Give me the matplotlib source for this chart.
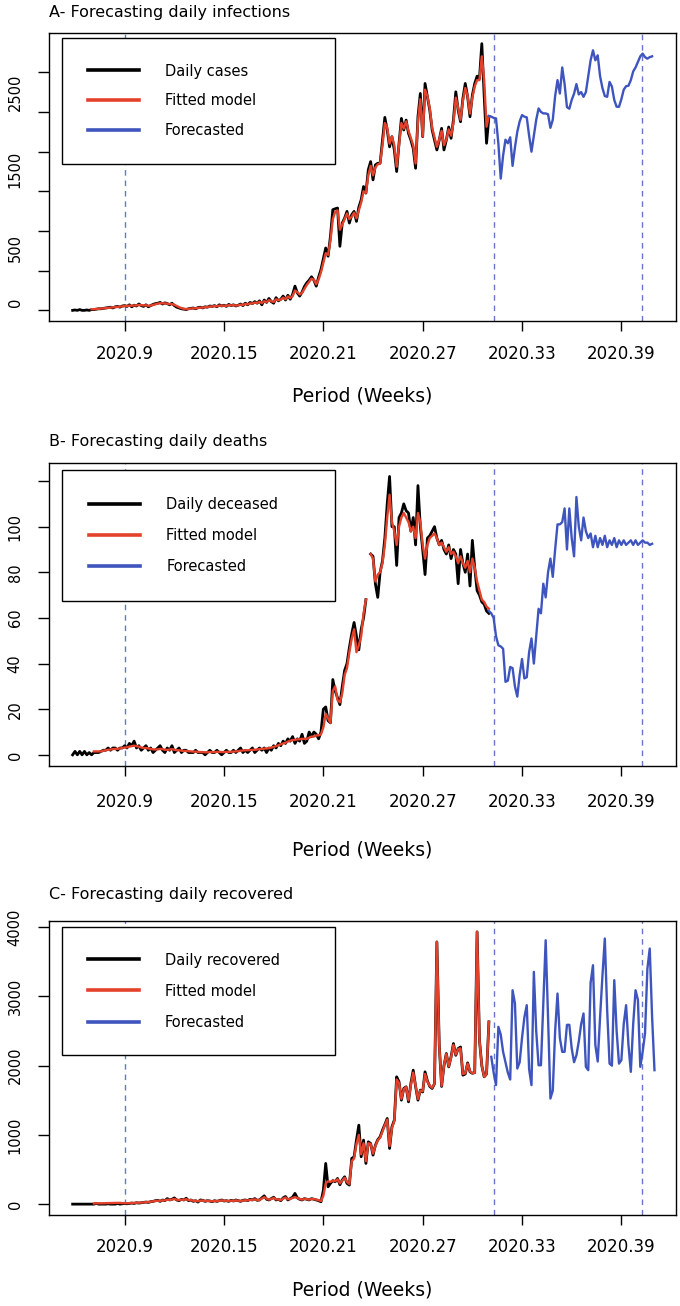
import numpy as np
import matplotlib
matplotlib.use("Agg")
import matplotlib.pyplot as plt
from matplotlib.lines import Line2D

# ---------------- data ----------------
start_week = 5 + 6 / 7          # first observed day, in week units
week_ticks = [9, 15, 21, 27, 33, 39]
week_labels = ["2020.9", "2020.15", "2020.21", "2020.27", "2020.33", "2020.39"]
vlines_weeks = [9, 31.3, 40.27]

nan = float("nan")

# Panel A: daily infections
cases_obs = [0, 5, 0, 10, 0, 0, 5, 0, 10,
             10, 15, 20, 20, 25, 30, 35, 40, 30, 45, 50, 40,
             55, 60, 50, 70, 45, 65, 55, 80, 60, 50, 70, 45, 60, 75, 85,
             90, 100, 80, 95, 85, 70, 90, 60, 40, 30,
             20, 15, 10, 20, 25, 30, 20, 35, 40, 30,
             45, 40, 55, 50, 60, 45, 70, 55, 65, 50, 75, 60, 70, 55, 65,
             80, 60, 90, 70, 100, 85, 110, 90, 120, 70, 130, 100, 150, 110, 90, 160, 120, 140, 180, 130, 190,
             140, 200, 305, 220, 180, 230, 300, 347, 380, 423,
             380, 305, 420, 515, 650, 786, 682, 933, 1268, 1280,
             1289, 807, 1100, 1163, 1247, 1100, 1205, 1247, 1121, 1300,
             1393, 1560, 1477, 1770, 1874, 1644, 1832, 1853, 1853, 2146,
             2431, 2272, 2060, 2188, 2021, 1749, 2105, 2418, 2272, 2397,
             2230, 2146, 2040, 1790, 2439, 2732, 2188, 2858, 2690, 2520,
             2272, 2146, 2021, 2146, 2293, 2021, 2146, 2310, 2167, 2400,
             2753, 2523, 2376, 2670, 2858, 2690, 2439, 2711, 2858, 2950,
             2920, 3360, 2700, 2105, 2440]
cases_fit_start = 8
cases_fit = [15, 15, 18, 20, 22, 25, 28, 32, 35, 36, 40, 44, 45,
             50, 55, 55, 60, 58, 62, 62, 68, 66, 62, 64, 58, 60, 68, 76,
             85, 90, 88, 88, 85, 78, 80, 70, 55, 40,
             28, 20, 16, 18, 22, 26, 25, 30, 35, 34,
             40, 42, 48, 50, 54, 50, 60, 58, 60, 56, 66, 62, 66, 60, 63,
             72, 68, 80, 75, 88, 86, 98, 94, 108, 90, 115, 105, 130, 115, 105, 140, 128, 135, 160, 140, 175,
             155, 180, 250, 230, 200, 220, 270, 320, 360, 400,
             385, 330, 390, 480, 600, 720, 700, 880, 1150, 1240,
             1260, 1017, 1080, 1150, 1220, 1150, 1180, 1230, 1160, 1260,
             1360, 1500, 1480, 1700, 1820, 1700, 1800, 1840, 1850, 2080,
             2360, 2300, 2100, 2190, 2080, 1810, 2080, 2360, 2290, 2380,
             2260, 2170, 2080, 1850, 2380, 2660, 2190, 2780, 2700, 2540,
             2300, 2180, 2060, 2150, 2260, 2080, 2150, 2280, 2200, 2360,
             2680, 2550, 2400, 2640, 2800, 2700, 2480, 2680, 2820, 2900,
             2900, 3200, 2900, 2314, 2448]
cases_fc_start = 176
cases_fc = [2448, 2440, 2425, 2418, 2100, 1660, 1950, 2150, 2105, 2180,
            1820, 2050, 2250, 2380, 2460, 2440, 2431, 2200, 1999, 2200,
            2400, 2544, 2500, 2481, 2481, 2470, 2300, 2400, 2700, 2900,
            2732, 3060, 2850, 2560, 2540, 2650, 2730, 2850, 2720, 2750,
            2690, 2750, 2950, 3150, 3276, 3150, 3213, 2950, 2800, 2700,
            2690, 2878, 2820, 2650, 2565, 2565, 2660, 2780, 2824, 2830,
            2900, 3010, 3060, 3130, 3200, 3234, 3190, 3171, 3190, 3200]

# Panel B: daily deaths
deaths_obs = [0, 1.5, 0, 1.5, 0, 1.5, 0, 1, 0,
              1, 1, 1, 1.5, 2, 2, 3, 2, 3, 3, 2, 3,
              3, 4, 3, 5, 4, 6, 3, 4, 2, 3, 4, 2, 3, 1, 2,
              3, 4, 2, 1, 3, 2, 4, 1, 2, 3, 1, 2, 2, 1, 1,
              1, 2, 1, 1, 1, 0, 1, 2, 1, 1, 2, 1, 0, 1, 2, 1, 1, 2, 1, 2,
              3, 1, 2, 1, 2, 3, 1, 2, 3, 2, 3, 1, 3, 2, 4, 3, 5, 4, 6, 5,
              7, 6, 8, 5, 7, 6, 9, 5, 6, 10, 8, 10, 9, 7, 10,
              20, 21, 15, 14, 33, 28, 25, 22, 30, 37, 40, 47, 53, 58, 52, 46, 55, 60, 68, nan,
              88, 87, 75, 69, 80, 85, 95, 110, 122, 100, 100, 83, 104, 106, 110, 107, 106, 98, 104, 92,
              118, 100, 90, 79, 95, 96, 98, 100, 95, 92, 94, 90, 88, 92, 86, 90, 88, 75, 90, 84,
              80, 88, 74, 94, 82, 72, 70, 67, 66, 63, 62]
deaths_fit_start = 9
deaths_fit = [1.5, 1.5, 1.5, 1.5, 1.8, 2, 2.2, 2.3, 2.5, 2.6, 2.6, 2.8,
              3, 3.2, 3.3, 3.6, 3.8, 4, 3.8, 3.6, 3.2, 3, 3, 2.8, 2.6, 2.4, 2.3,
              2.4, 2.6, 2.5, 2.2, 2.2, 2.3, 2.5, 2.2, 2, 2, 1.8, 1.7, 1.7, 1.6, 1.5,
              1.4, 1.4, 1.3, 1.2, 1.2, 1.1, 1.1, 1.2, 1.2, 1.2, 1.3, 1.3, 1.2, 1.2, 1.3, 1.3, 1.3, 1.4, 1.5, 1.6,
              1.8, 1.9, 2, 2, 2.1, 2.2, 2.2, 2.3, 2.5, 2.6, 2.7, 2.8, 2.9, 3.2, 3.5, 3.8, 4.2, 4.6, 5, 5.3,
              5.8, 6.2, 6.5, 6.5, 6.8, 6.8, 7, 7, 7, 7.5, 8, 8, 8.5, 8.5, 9,
              12, 18, 16, 14, 28, 30, 24, 23, 27, 35, 38, 45, 51, 55, 45, 48, 52, 62, 68, nan,
              88, 86, 76, 79, 80, 84, 92, 104, 114, 102, 98, 92, 100, 104, 106, 104, 102, 98, 100, 95,
              106, 102, 92, 86, 92, 95, 96, 97, 95, 92, 93, 91, 89, 91, 88, 89, 87, 84, 87, 84,
              82, 85, 80, 86, 82, 76, 72, 68, 67, 65, 64]
deaths_fc_start = 176
deaths_fc = [63, 62, 60, 52, 48, 47.5, 46.5, 32, 32.5, 38.5,
             38, 30, 25.5, 35, 42, 33.5, 34, 45, 51, 40,
             52, 64, 62, 75, 69, 80, 86, 78, 90, 101,
             101, 102, 108, 90, 108, 95, 87, 113, 100, 94,
             104, 98, 95, 97, 91, 96, 91, 95, 92, 96,
             91, 94, 92, 95, 91, 94, 92, 94, 92, 93,
             94, 92, 94, 92, 93, 94, 93, 93, 92, 92.5]

# Panel C: daily recovered
recov_obs = [0, 0, 0, 0, 0, 0, 0, 0, 0, 0, 10, 0, 0, 0, 0, 5, 0, 0, 0, 10, 0,
             5, 10, 5, 10, 15, 10, 20, 15, 20, 25, 30, 25, 35, 40, 50, 55, 40, 60, 50, 80,
             60, 70, 90, 60, 50, 70, 60, 85, 50, 60, 40, 50, 30, 60, 55, 40, 50, 45, 35, 50,
             40, 50, 60, 45, 50, 40, 55, 45, 60, 50, 40, 55, 60, 50, 70, 60, 80, 55, 60, 90,
             120, 70, 60, 80, 100, 60, 70, 50, 90, 110, 60,
             80, 100, 155, 90, 70, 60, 80, 70, 60, 80,
             70, 60, 50, 34, 200, 588, 250, 300, 340, 323,
             371, 280, 350, 395, 300, 275, 660, 684, 925, 1141,
             684, 925, 588, 900, 877, 708, 850, 930, 973, 1069,
             1150, 1237, 804, 1117, 1213, 1839, 1767, 1502, 1671, 1695,
             1478, 1743, 1935, 1700, 1502, 1647, 1620, 1911, 1780, 1700,
             1671, 1740, 3788, 2300, 1700, 2000, 2176, 1983, 2128, 2320,
             2150, 2248, 2270, 1863, 1880, 2041, 1911, 1890, 1900, 3933,
             2369, 2000, 1839, 1880, 2633]
recov_fit_start = 9
recov_fit = [10, 12, 12, 12, 12, 14, 15, 15, 16, 18, 18, 18,
             15, 15, 12, 15, 18, 18, 20, 20, 22, 25, 28, 30, 35, 40, 45, 50, 48, 55, 52, 65,
             62, 65, 75, 65, 58, 65, 62, 72, 58, 58, 48, 48, 40, 52, 52, 45, 48, 46, 40, 46,
             44, 48, 55, 48, 50, 44, 50, 46, 55, 50, 45, 52, 56, 52, 62, 60, 70, 60, 60, 80,
             100, 80, 65, 75, 90, 68, 70, 58, 80, 95, 70,
             75, 90, 100, 90, 75, 65, 75, 72, 65, 75,
             72, 65, 58, 45, 120, 300, 330, 320, 340, 330,
             360, 300, 340, 380, 320, 290, 620, 660, 870, 1000,
             720, 880, 620, 880, 870, 730, 840, 920, 960, 1050,
             1140, 1220, 840, 1100, 1200, 1800, 1750, 1520, 1660, 1690,
             1500, 1720, 1900, 1710, 1520, 1640, 1630, 1880, 1770, 1710,
             1680, 1740, 3788, 2300, 1710, 2000, 2170, 1990, 2120, 2300,
             2160, 2240, 2250, 1880, 1890, 2030, 1920, 1890, 1900, 3933,
             2369, 2000, 1839, 1880, 2633]
recov_fc_start = 177
recov_fc = [2128, 1900, 1720, 2561, 2450, 2200, 2050, 1900, 1800, 3090,
            2900, 1959, 2050, 2400, 2700, 2874, 1950, 1719, 3355, 2500,
            2006, 2006, 2900, 3812, 2700, 1526, 1640, 2500, 3042, 2400,
            2200, 2200, 2590, 2590, 2250, 2050, 2150, 2350, 2600, 2754,
            1983, 1935, 3200, 3451, 2300, 2060, 2700, 3300, 3837, 2800,
            2030, 2000, 3235, 2500, 2030, 2080, 2600, 2874, 2300, 1911,
            2600, 3090, 2950, 1983, 2200, 2465, 3400, 3692, 2700, 1935]

titles = ["A- Forecasting daily infections",
          "B- Forecasting daily deaths",
          "C- Forecasting daily recovered"]
legend_first = ["Daily cases", "Daily deceased", "Daily recovered"]
xlabel = "Period (Weeks)"

# y axis ticks / labels
A_ticks = [0, 500, 1000, 1500, 2000, 2500, 3000]
A_label_pos = [100, 790, 1770, 2750]
A_label_txt = ["0", "500", "1500", "2500"]
B_ticks = [0, 20, 40, 60, 80, 100, 120]
B_labels = ["0", "20", "40", "60", "80", "100", ""]
C_ticks = [0, 1000, 2000, 3000, 4000]
C_labels = ["0", "1000", "2000", "3000", "4000"]

# ---------------- style ----------------
BLACK = "#000000"
RED = "#E4412B"
BLUE = "#3F55BE"
VCOL = "#6676CC"
W, H = 680, 1306

fig = plt.figure(figsize=(W / 100, H / 100), dpi=100)


def ax_at(left, top, right, bottom):
    return fig.add_axes([left / W, 1 - bottom / H, (right - left) / W, (bottom - top) / H])


def weeks(start, n):
    return start_week + (start + np.arange(n)) / 7.0


panels = [
    dict(box=(49, 33, 676, 321), ylim=(-134, 3494),
         obs=cases_obs, fit=cases_fit, fit_start=cases_fit_start,
         fc=cases_fc, fc_start=cases_fc_start, title_y=17, xpad=10, lpad=17,
         leg_top=38, leg_h=122, bp=1.75, ls=1.01),
    dict(box=(49, 463, 676, 766), ylim=(-4.9, 127.9),
         obs=deaths_obs, fit=deaths_fit, fit_start=deaths_fit_start,
         fc=deaths_fc, fc_start=deaths_fc_start, title_y=446, xpad=12, lpad=21,
         leg_top=470, leg_h=128, bp=1.85, ls=1.1),
    dict(box=(49, 921, 676, 1215), ylim=(-157, 4090),
         obs=recov_obs, fit=recov_fit, fit_start=recov_fit_start,
         fc=recov_fc, fc_start=recov_fc_start, title_y=899, xpad=9, lpad=18,
         leg_top=927, leg_h=124, bp=1.75, ls=1.1),
]

for i, p in enumerate(panels):
    l, t, r, b = p["box"]
    ax = ax_at(l, t, r, b)
    for v in vlines_weeks:
        ax.axvline(v, color=VCOL, lw=1.0, ls=(0, (4, 3.5)), zorder=1)
    obs = np.array(p["obs"], dtype=float)
    fit = np.array(p["fit"], dtype=float)
    fc = np.array(p["fc"], dtype=float)
    ax.plot(weeks(0, len(obs)), obs, color=BLACK, lw=2.0, zorder=3)
    ax.plot(weeks(p["fit_start"], len(fit)), fit, color=RED, lw=1.7, zorder=4)
    ax.plot(weeks(p["fc_start"], len(fc)), fc, color=BLUE, lw=1.7, zorder=4)

    ax.set_xlim(4.43, 42.3)
    ax.set_ylim(*p["ylim"])
    ax.set_xticks(week_ticks, week_labels)
    ax.tick_params(axis="x", length=7.5, width=1, pad=p["xpad"], labelsize=12)
    ax.tick_params(axis="y", length=8, width=1, pad=11, labelsize=10.5)
    if i == 0:
        ax.set_yticks(A_ticks, [""] * len(A_ticks))
        ax.set_yticks(A_label_pos, A_label_txt, minor=True)
        ax.tick_params(axis="y", which="minor", length=0, pad=19, labelsize=10.5)
        for lab in ax.get_yticklabels(minor=True):
            lab.set_rotation(90)
            lab.set_va("center")
    elif i == 1:
        ax.set_yticks(B_ticks, B_labels)
    else:
        ax.set_yticks(C_ticks, C_labels)
    for lab in ax.get_yticklabels():
        lab.set_rotation(90)
        lab.set_va("center")
    for s in ax.spines.values():
        s.set_linewidth(1.0)
    ax.set_xlabel(xlabel, fontsize=13.5, labelpad=p["lpad"])

    fig.text(l / W, 1 - p["title_y"] / H, titles[i], fontsize=11.5, ha="left", va="baseline")

    handles = [Line2D([], [], color=BLACK, lw=2.6),
               Line2D([], [], color=RED, lw=2.6),
               Line2D([], [], color=BLUE, lw=2.6)]
    labels = [legend_first[i], "Fitted model", "Forecasted"]
    axh = b - t
    x0 = (62 - l) / (r - l)
    wlen = (335 - 62) / (r - l)
    ytop = (b - p["leg_top"]) / axh
    hh = p["leg_h"] / axh
    leg = ax.legend(handles, labels, loc="upper left",
                    bbox_to_anchor=(x0, ytop - hh, wlen, hh), mode="expand",
                    borderaxespad=0, fontsize=10.5, handlelength=3.5,
                    handletextpad=1.8, borderpad=p["bp"], labelspacing=p["ls"],
                    fancybox=False, framealpha=1, edgecolor="black")
    leg.get_frame().set_linewidth(1.0)
    leg.set_zorder(10)

fig.savefig("out.png", dpi=100)
